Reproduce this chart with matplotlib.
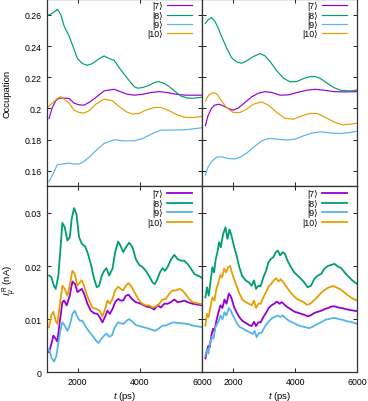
import matplotlib
matplotlib.use("Agg")
import matplotlib.pyplot as plt

plt.rcParams['font.family'] = ['Liberation Sans', 'DejaVu Sans']
plt.rcParams['mathtext.fontset'] = 'custom'
plt.rcParams['mathtext.rm'] = 'Liberation Sans'
plt.rcParams['mathtext.it'] = 'Liberation Sans:italic'
plt.rcParams['mathtext.bf'] = 'Liberation Sans:bold'

labels = ['|7⟩', '|8⟩', '|9⟩', '|10⟩']
colors = ['#9400d3', '#009e73', '#56b4e9', '#e69f00']

# ---- top-left: occupation ----
tl7_t = [1075, 1180, 1290, 1400, 1560, 1720, 1880, 2043, 2200, 2365, 2580, 2850, 3170, 3390, 3600, 3820, 4090, 4355, 4624, 4890, 5160, 5480, 6000]
tl7_v = [0.1935, 0.2006, 0.2049, 0.2066, 0.2066, 0.2064, 0.2034, 0.2023, 0.2021, 0.2038, 0.207, 0.2113, 0.2123, 0.2106, 0.2091, 0.2085, 0.2091, 0.2102, 0.2108, 0.2102, 0.2091, 0.2085, 0.2085]
tl8_t = [1020, 1180, 1344, 1450, 1560, 1720, 1880, 1990, 2150, 2310, 2470, 2690, 2850, 3010, 3170, 3330, 3490, 3660, 3820, 3925, 4090, 4300, 4460, 4600, 4785, 4946, 5108, 5320, 5540, 5750, 6000]
tl8_v = [0.2597, 0.261, 0.2636, 0.2604, 0.2529, 0.2465, 0.238, 0.232, 0.2288, 0.2277, 0.2288, 0.232, 0.2337, 0.232, 0.2309, 0.2262, 0.222, 0.2177, 0.214, 0.213, 0.2134, 0.2149, 0.2166, 0.2173, 0.216, 0.214, 0.2113, 0.208, 0.2066, 0.2066, 0.2072]
tl9_t = [1075, 1200, 1344, 1505, 1720, 1880, 2043, 2200, 2420, 2634, 2850, 3170, 3440, 3820, 4090, 4408, 4677, 5054, 5480, 6000]
tl9_v = [0.153, 0.1579, 0.1639, 0.1643, 0.1649, 0.1643, 0.1643, 0.166, 0.1696, 0.1739, 0.1775, 0.1799, 0.1792, 0.1792, 0.1807, 0.1839, 0.1861, 0.1861, 0.1863, 0.1876]
tl10_t = [1020, 1180, 1344, 1450, 1560, 1720, 1880, 2043, 2200, 2365, 2580, 2850, 3118, 3330, 3550, 3763, 3978, 4190, 4460, 4677, 4946, 5215, 5480, 5750, 6000]
tl10_v = [0.2006, 0.2034, 0.2064, 0.2076, 0.206, 0.2034, 0.1989, 0.1974, 0.197, 0.1985, 0.2027, 0.206, 0.2049, 0.2012, 0.198, 0.1963, 0.1968, 0.1989, 0.2006, 0.2006, 0.1985, 0.1957, 0.1942, 0.1942, 0.1949]

# ---- top-right: occupation ----
tr7_t = [1108, 1194, 1302, 1410, 1550, 1680, 1842, 2004, 2166, 2382, 2598, 2814, 3030, 3246, 3516, 3786, 4056, 4380, 4650, 4920, 5244, 5568, 6000]
tr7_v = [0.1889, 0.1953, 0.2, 0.2021, 0.2027, 0.2017, 0.2, 0.1989, 0.2002, 0.2038, 0.2074, 0.2098, 0.2108, 0.2102, 0.2085, 0.2087, 0.2102, 0.2117, 0.2123, 0.2117, 0.2108, 0.2106, 0.2108]
tr8_t = [1108, 1194, 1302, 1410, 1518, 1626, 1788, 1950, 2112, 2274, 2436, 2652, 2868, 3030, 3192, 3408, 3624, 3840, 4056, 4272, 4488, 4650, 4812, 5028, 5244, 5460, 5676, 5838, 6000]
tr8_v = [0.2546, 0.2568, 0.2583, 0.2561, 0.2518, 0.2465, 0.239, 0.2326, 0.2299, 0.229, 0.2305, 0.2333, 0.2352, 0.2337, 0.2301, 0.2241, 0.2194, 0.217, 0.2173, 0.2192, 0.2205, 0.2205, 0.2192, 0.2162, 0.2134, 0.2117, 0.2113, 0.2113, 0.2119]
tr9_t = [1108, 1194, 1302, 1464, 1626, 1842, 2058, 2220, 2436, 2652, 2922, 3138, 3408, 3732, 4002, 4272, 4542, 4812, 5136, 5460, 5784, 6000]
tr9_v = [0.1573, 0.1622, 0.1658, 0.1686, 0.169, 0.1679, 0.1675, 0.1686, 0.1713, 0.175, 0.1792, 0.1807, 0.1803, 0.1797, 0.1803, 0.1824, 0.1842, 0.185, 0.1842, 0.1839, 0.1846, 0.1854]
tr10_t = [1108, 1216, 1356, 1486, 1626, 1788, 2004, 2220, 2436, 2652, 2922, 3138, 3408, 3678, 3948, 4218, 4488, 4704, 4974, 5244, 5514, 5784, 6000]
tr10_v = [0.2049, 0.2085, 0.2102, 0.2091, 0.2049, 0.2006, 0.1974, 0.1974, 0.1995, 0.2027, 0.2042, 0.2021, 0.1974, 0.1936, 0.1931, 0.1953, 0.1968, 0.1968, 0.1942, 0.1914, 0.1895, 0.1899, 0.1906]

# ---- bottom-left: current (nA) ----
bl7_t = [1075, 1150, 1215, 1290, 1344, 1419, 1505, 1559, 1645, 1742, 1828, 1914, 1989, 2064, 2129, 2204, 2312, 2419, 2527, 2634, 2742, 2795, 2881, 2957, 3032, 3118, 3204, 3300, 3386, 3462, 3548, 3634, 3741, 3870, 4032, 4193, 4354, 4462, 4569, 4676, 4784, 4892, 5000, 5107, 5214, 5322, 5429, 5537, 5698, 6000]
bl7_v = [0.0038, 0.0053, 0.0069, 0.0063, 0.0058, 0.0094, 0.0132, 0.0135, 0.0126, 0.0144, 0.0171, 0.0166, 0.0151, 0.0154, 0.0157, 0.0148, 0.0129, 0.0116, 0.0111, 0.011, 0.01, 0.0094, 0.0105, 0.0116, 0.011, 0.0119, 0.0132, 0.0138, 0.0135, 0.0135, 0.0144, 0.0146, 0.0138, 0.0132, 0.0129, 0.0124, 0.0122, 0.0118, 0.0126, 0.0122, 0.0129, 0.0129, 0.0132, 0.0137, 0.0132, 0.0133, 0.0135, 0.0132, 0.0129, 0.0126]
bl8_t = [1075, 1150, 1237, 1290, 1376, 1451, 1505, 1580, 1666, 1742, 1806, 1881, 1957, 2043, 2129, 2236, 2312, 2419, 2527, 2612, 2688, 2774, 2849, 2924, 3010, 3118, 3204, 3300, 3386, 3462, 3548, 3655, 3763, 3870, 3978, 4085, 4193, 4300, 4408, 4483, 4569, 4644, 4730, 4806, 4892, 5000, 5107, 5214, 5322, 5429, 5537, 5644, 5752, 6000]
bl8_v = [0.0182, 0.0179, 0.0162, 0.0157, 0.0182, 0.0239, 0.0281, 0.0273, 0.0248, 0.0254, 0.0289, 0.0309, 0.0298, 0.0254, 0.0242, 0.0237, 0.0226, 0.0204, 0.0176, 0.016, 0.0163, 0.0182, 0.0191, 0.0196, 0.0182, 0.0195, 0.0226, 0.0246, 0.0237, 0.0226, 0.0235, 0.0244, 0.0235, 0.0213, 0.0202, 0.0198, 0.0191, 0.0181, 0.0169, 0.0166, 0.0176, 0.0188, 0.0196, 0.0191, 0.0198, 0.0212, 0.0221, 0.0213, 0.021, 0.021, 0.0204, 0.0195, 0.0185, 0.0178]
bl9_t = [1075, 1150, 1237, 1312, 1376, 1451, 1505, 1580, 1666, 1742, 1828, 1903, 1989, 2075, 2150, 2236, 2344, 2473, 2580, 2666, 2763, 2849, 2924, 3010, 3096, 3193, 3300, 3386, 3472, 3569, 3655, 3763, 3870, 3978, 4107, 4247, 4386, 4483, 4601, 4730, 4838, 4945, 5075, 5214, 5375, 5537, 5698, 6000]
bl9_v = [0.0044, 0.0028, 0.002, 0.0031, 0.0056, 0.0082, 0.0094, 0.0088, 0.0078, 0.0088, 0.011, 0.0116, 0.0104, 0.0097, 0.0097, 0.0088, 0.0078, 0.0069, 0.006, 0.0055, 0.0063, 0.0069, 0.0073, 0.0067, 0.0069, 0.0085, 0.0094, 0.0092, 0.0091, 0.0097, 0.01, 0.0095, 0.0089, 0.0087, 0.0085, 0.0083, 0.008, 0.0078, 0.0082, 0.0088, 0.0088, 0.0091, 0.0094, 0.0093, 0.0092, 0.0091, 0.0088, 0.0085]
bl10_t = [1075, 1150, 1215, 1290, 1344, 1419, 1505, 1580, 1666, 1742, 1828, 1903, 1989, 2064, 2129, 2204, 2280, 2365, 2473, 2602, 2709, 2795, 2881, 2957, 3032, 3118, 3204, 3300, 3386, 3462, 3548, 3634, 3741, 3870, 3978, 4085, 4193, 4300, 4408, 4515, 4623, 4730, 4838, 4945, 5053, 5160, 5268, 5375, 5483, 5590, 5698, 6000]
bl10_v = [0.0085, 0.0108, 0.0114, 0.0097, 0.0091, 0.0126, 0.0163, 0.0157, 0.0144, 0.0163, 0.0191, 0.0185, 0.0163, 0.0169, 0.0173, 0.0163, 0.0148, 0.0135, 0.0122, 0.0119, 0.0116, 0.0105, 0.0119, 0.0135, 0.0129, 0.0138, 0.0154, 0.0161, 0.0157, 0.0154, 0.0163, 0.0168, 0.016, 0.0146, 0.0135, 0.0129, 0.0126, 0.0126, 0.0122, 0.0124, 0.0129, 0.0137, 0.0138, 0.0148, 0.0154, 0.0154, 0.0157, 0.0154, 0.0146, 0.0138, 0.0132, 0.0128]

# ---- bottom-right: current (nA) ----
br7_t = [1108, 1162, 1205, 1248, 1302, 1356, 1400, 1464, 1529, 1594, 1659, 1724, 1788, 1864, 1918, 1972, 2037, 2112, 2199, 2296, 2404, 2512, 2598, 2674, 2739, 2814, 2890, 2976, 3063, 3149, 3236, 3322, 3408, 3495, 3570, 3657, 3765, 3873, 3981, 4089, 4197, 4305, 4413, 4521, 4629, 4737, 4845, 4953, 5061, 5169, 5277, 5385, 5493, 5622, 5784, 6000]
br7_v = [0.0026, 0.0041, 0.005, 0.0047, 0.0069, 0.0082, 0.0077, 0.0097, 0.0113, 0.0126, 0.0121, 0.0137, 0.0129, 0.0148, 0.0144, 0.0135, 0.0122, 0.0113, 0.0104, 0.0097, 0.0093, 0.0089, 0.0087, 0.0095, 0.0087, 0.0094, 0.0094, 0.0104, 0.0112, 0.0121, 0.0126, 0.0129, 0.0133, 0.0129, 0.0132, 0.0127, 0.0122, 0.0118, 0.0114, 0.0112, 0.011, 0.0108, 0.0105, 0.0108, 0.0112, 0.0114, 0.0116, 0.0119, 0.0121, 0.0124, 0.0124, 0.0122, 0.0121, 0.0119, 0.0117, 0.0115]
br8_t = [1108, 1162, 1216, 1270, 1335, 1389, 1443, 1497, 1551, 1605, 1680, 1756, 1821, 1886, 1950, 2026, 2112, 2199, 2296, 2404, 2512, 2598, 2674, 2739, 2814, 2890, 2976, 3063, 3138, 3214, 3300, 3376, 3441, 3516, 3592, 3668, 3754, 3862, 3970, 4078, 4186, 4294, 4402, 4510, 4618, 4726, 4834, 4942, 5050, 5158, 5266, 5374, 5482, 5590, 5698, 5838, 6000]
br8_v = [0.0141, 0.016, 0.0144, 0.0169, 0.0198, 0.0188, 0.0213, 0.0226, 0.0245, 0.0235, 0.026, 0.0273, 0.0251, 0.0269, 0.0257, 0.0238, 0.022, 0.0198, 0.0181, 0.0173, 0.0169, 0.0163, 0.0173, 0.0157, 0.0163, 0.0162, 0.0179, 0.0191, 0.0207, 0.0213, 0.0217, 0.0226, 0.0229, 0.022, 0.0226, 0.0223, 0.021, 0.0198, 0.0188, 0.0182, 0.0176, 0.0169, 0.016, 0.0163, 0.0176, 0.0182, 0.0185, 0.0195, 0.02, 0.0202, 0.0204, 0.0199, 0.0196, 0.0188, 0.0181, 0.0173, 0.0166]
br9_t = [1108, 1162, 1205, 1259, 1313, 1367, 1432, 1486, 1540, 1594, 1659, 1724, 1788, 1864, 1929, 1983, 2058, 2134, 2220, 2328, 2436, 2544, 2631, 2696, 2760, 2836, 2912, 2998, 3084, 3171, 3257, 3344, 3430, 3516, 3603, 3689, 3797, 3905, 4013, 4121, 4229, 4337, 4434, 4542, 4650, 4758, 4866, 4974, 5082, 5190, 5298, 5406, 5514, 5676, 5838, 6000]
br9_v = [0.0031, 0.0044, 0.0035, 0.0056, 0.0066, 0.0063, 0.0085, 0.0091, 0.0097, 0.0107, 0.01, 0.0113, 0.0107, 0.0121, 0.0116, 0.0108, 0.01, 0.0091, 0.0085, 0.0082, 0.0078, 0.0075, 0.0072, 0.0078, 0.0066, 0.0074, 0.0074, 0.0083, 0.0091, 0.0097, 0.0102, 0.0104, 0.0107, 0.0104, 0.0107, 0.0102, 0.0097, 0.0094, 0.0091, 0.0088, 0.0086, 0.0085, 0.0083, 0.0085, 0.0089, 0.0092, 0.0095, 0.0099, 0.01, 0.0102, 0.0102, 0.01, 0.0099, 0.0096, 0.0094, 0.0091]
br10_t = [1108, 1162, 1216, 1281, 1335, 1400, 1464, 1529, 1594, 1648, 1713, 1778, 1842, 1907, 1961, 2026, 2112, 2199, 2296, 2404, 2512, 2598, 2674, 2739, 2814, 2890, 2976, 3063, 3149, 3225, 3311, 3387, 3462, 3538, 3624, 3732, 3840, 3948, 4056, 4164, 4272, 4380, 4488, 4596, 4704, 4812, 4920, 5028, 5136, 5244, 5352, 5460, 5568, 5676, 5838, 6000]
br10_v = [0.0088, 0.011, 0.0104, 0.0126, 0.0141, 0.0135, 0.0157, 0.0169, 0.0183, 0.0179, 0.0195, 0.0188, 0.0198, 0.02, 0.0188, 0.0176, 0.0163, 0.0149, 0.0137, 0.0132, 0.0129, 0.0126, 0.0135, 0.0121, 0.0129, 0.0129, 0.0141, 0.0151, 0.0162, 0.0166, 0.0173, 0.0177, 0.0171, 0.0175, 0.0169, 0.016, 0.0151, 0.0144, 0.0138, 0.0135, 0.0132, 0.0127, 0.0129, 0.0135, 0.0141, 0.0148, 0.0154, 0.0158, 0.0161, 0.0162, 0.0159, 0.0156, 0.0151, 0.0146, 0.0139, 0.0135]

occ_yticks = [0.16, 0.18, 0.2, 0.22, 0.24, 0.26]
occ_yticklabels = ['0.16', '0.18', '0.2', '0.22', '0.24', '0.26']
cur_yticks = [0, 0.01, 0.02, 0.03]
cur_yticklabels = ['0', '0.01', '0.02', '0.03']
xticks = [2000, 4000, 6000]
xticklabels = ['2000', '4000', '6000']

W, H = 368, 402
fig = plt.figure(figsize=(W / 100, H / 100), dpi=100)
fs = 6.3

xl, xm, xr = 46.7 / W, 202 / W, 357.3 / W
ytop, ymid, ybot = 0.999, 1 - 187.3 / H, 1 - 373.3 / H
pw = (xm - xl) * W  # panel width in px

ax_tl = fig.add_axes([xl, ymid, xm - xl, ytop - ymid])
ax_tr = fig.add_axes([xm, ymid, xr - xm, ytop - ymid])
ax_bl = fig.add_axes([xl, ybot, xm - xl, ymid - ybot])
ax_br = fig.add_axes([xm, ybot, xr - xm, ymid - ybot])

top_data = [
    (ax_tl, [(tl7_t, tl7_v), (tl8_t, tl8_v), (tl9_t, tl9_v), (tl10_t, tl10_v)]),
    (ax_tr, [(tr7_t, tr7_v), (tr8_t, tr8_v), (tr9_t, tr9_v), (tr10_t, tr10_v)]),
]
bot_data = [
    (ax_bl, [(bl7_t, bl7_v), (bl8_t, bl8_v), (bl9_t, bl9_v), (bl10_t, bl10_v)]),
    (ax_br, [(br7_t, br7_v), (br8_t, br8_v), (br9_t, br9_v), (br10_t, br10_v)]),
]

def style(ax):
    ax.set_xlim(1000, 6000)
    ax.set_xticks(xticks)
    ax.tick_params(direction='in', length=3, width=0.6, top=True, right=True,
                   labelsize=fs, pad=3.5, colors='black')
    for s in ax.spines.values():
        s.set_linewidth(0.9)
        s.set_color('#333333')

for ax, series in top_data:
    for (t, v), c, lab in zip(series, colors, labels):
        ax.plot(t, v, color=c, lw=0.85, label=lab)
    style(ax)
    ax.set_ylim(0.15, 0.27)
    ax.set_yticks(occ_yticks)
    ax.set_xticklabels([])

for ax, series in bot_data:
    for (t, v), c, lab in zip(series, colors, labels):
        ax.plot(t, v, color=c, lw=1.3, label=lab)
    style(ax)
    ax.set_ylim(0, 0.035)
    ax.set_yticks(cur_yticks)
    ax.set_xticklabels(xticklabels)
    ax.set_xlabel(r'$t$ (ps)', fontsize=fs + 0.5, labelpad=2)

ax_tl.set_yticklabels(occ_yticklabels)
ax_bl.set_yticklabels(cur_yticklabels)
ax_tr.set_yticklabels([])
ax_br.set_yticklabels([])

ax_tl.set_ylabel('Occupation', fontsize=fs + 0.5)
ax_bl.set_ylabel(r'$I_{\mu}^{\,\mathrm{R}}$ (nA)', fontsize=fs + 0.5)
for ax, xc, yc in [(ax_tl, 6.7, 0.5), (ax_bl, 10.0, 0.5)]:
    ax.yaxis.label.set_verticalalignment('center')
    ax.yaxis.set_label_coords(-(46.7 - xc) / pw, yc)

for ax, ya in [(ax_tl, 1.0), (ax_tr, 1.0), (ax_bl, 0.993), (ax_br, 0.993)]:
    ax.legend(loc='upper right', bbox_to_anchor=(1 - 8.5 / pw, ya), frameon=False,
              fontsize=fs, markerfirst=False, handlelength=2.85, handletextpad=0.5,
              labelspacing=0.05, borderaxespad=0.0, borderpad=0.2)

fig.savefig('out.png', dpi=100)
